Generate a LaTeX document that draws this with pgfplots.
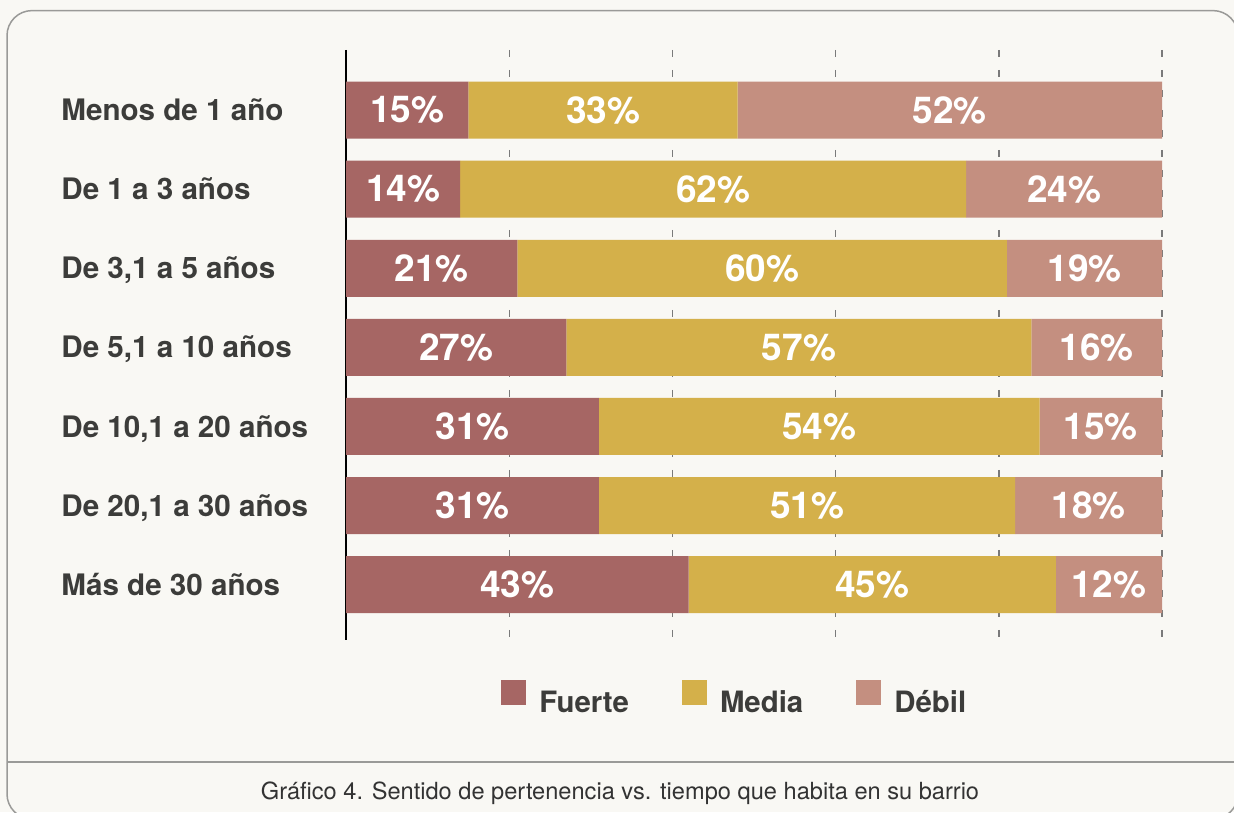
\documentclass[border=0pt]{standalone}
\usepackage{pgfplots}
\pgfplotsset{compat=1.18}
\usepackage{pgfplotstable}
\usepackage{fontspec}
\setmainfont{TeX Gyre Heros}
\definecolor{cF}{HTML}{A66664}
\definecolor{cM}{HTML}{D4B04A}
\definecolor{cD}{HTML}{C48F80}
\definecolor{bg}{HTML}{F9F8F4}
\definecolor{frame}{HTML}{9A9A98}
\definecolor{txt}{HTML}{3C3C3A}
\definecolor{gridc}{HTML}{7A7A7A}

% bar lengths as drawn (fuerte, media, debil) and printed labels (lf, lm, ld)
\pgfplotstableread{
y fuerte media debil lf lm ld
0 15 33 52 15 33 52
1 14 62 24 14 62 24
2 21 60 19 21 60 19
3 27 57 16 27 57 16
4 31 54 15 31 54 15
5 31 51 18 31 51 18
6 42 45 13 43 45 12
}\datatable

\pgfplotsset{
  common/.style={
    at={(173pt,86pt)}, anchor=south west,
    width=408pt, height=295pt, scale only axis,
    xmin=0, xmax=100,
    ymin=-0.76, ymax=6.70, y dir=reverse,
    clip=false,
  },
}

\begin{document}
\begin{tikzpicture}
\path[use as bounding box] (0,0) rectangle (617pt,406pt);
\fill[bg] (0,0) rectangle (617pt,406pt);
\begin{scope}
\clip (0,0) rectangle (617pt,406pt);
\draw[frame, line width=0.75pt, rounded corners=12.5pt] (3.5pt,400.7pt) rectangle (619pt,-3.5pt);
\draw[frame, line width=0.75pt] (3.5pt,25pt) -- (619pt,25pt);
\end{scope}
\node[anchor=base, font=\fontsize{11.8}{14}\selectfont, text=black!80] at (310pt,6pt)
  {Gráfico 4. Sentido de pertenencia vs. tiempo que habita en su barrio};
\begin{axis}[
  common,
  xbar stacked, bar width=28.5pt,
  separate axis lines,
  axis x line*=bottom,
  x axis line style={draw=none},
  axis y line*=left,
  y axis line style={-, black, line width=0.75pt},
  xtick={20,40,60,80,100}, xticklabels={},
  xmajorgrids,
  grid style={gridc, line width=0.7pt, dash pattern=on 3.5pt off 6.5pt},
  major tick length=0pt,
  ytick={0,1,2,3,4,5,6},
  yticklabels={{Menos de 1 año}, {De 1 a 3 años}, {De 3,1 a 5 años}, {De 5,1 a 10 años}, {De 10,1 a 20 años}, {De 20,1 a 30 años}, {Más de 30 años}},
  yticklabel style={anchor=base west, inner sep=0pt, xshift=-142.5pt, yshift=-5.3pt,
    font=\bfseries\fontsize{14.8}{17}\selectfont, text=txt},
  legend style={at={(axis description cs:0.19,-0.0983)}, anchor=west, draw=none, fill=none,
    legend columns=3, inner sep=0pt, nodes={inner sep=0pt},
    font=\bfseries\fontsize{14.7}{17}\selectfont, text=txt,
    /tikz/every odd column/.append style={column sep=6.5pt},
    /tikz/every even column/.append style={column sep=26.5pt}},
  legend image code/.code={\path[#1] (0pt,-0.95pt) rectangle (12.5pt,11.55pt);},
]
\addplot[fill=cF, draw=none] table[x=fuerte, y=y] {\datatable};
\addplot[fill=cM, draw=none] table[x=media, y=y] {\datatable};
\addplot[fill=cD, draw=none] table[x=debil, y=y] {\datatable};
\legend{Fuerte, Media, Débil}
\end{axis}
\begin{axis}[
  common,
  hide axis,
  point meta=explicit,
  /pgf/number format/assume math mode=true,
  nodes near coords={\pgfmathprintnumber{\pgfplotspointmeta}\%},
  every node near coord/.append style={anchor=center,
    font=\bfseries\fontsize{18.5}{20}\selectfont, text=white, inner sep=0pt},
]
\addplot[only marks, mark=none] table[x expr={\thisrow{fuerte}/2}, y=y, meta=lf] {\datatable};
\addplot[only marks, mark=none] table[x expr={\thisrow{fuerte}+\thisrow{media}/2}, y=y, meta=lm] {\datatable};
\addplot[only marks, mark=none] table[x expr={\thisrow{fuerte}+\thisrow{media}+\thisrow{debil}/2}, y=y, meta=ld] {\datatable};
\end{axis}
\end{tikzpicture}
\end{document}
